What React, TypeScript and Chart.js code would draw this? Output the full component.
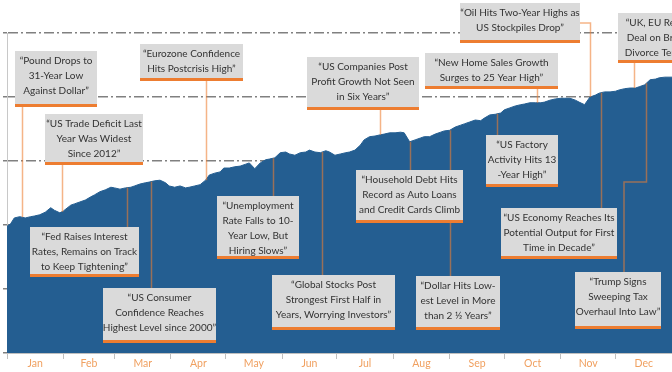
import React, { useEffect, useRef } from 'react';
import { Chart, registerables } from 'chart.js';

Chart.register(...registerables);

// Month axis (day-of-year based)
const MONTHS = ['Jan', 'Feb', 'Mar', 'Apr', 'May', 'Jun', 'Jul', 'Aug', 'Sep', 'Oct', 'Nov', 'Dec'];
const MONTH_STARTS = [0, 31, 59, 90, 120, 151, 181, 212, 243, 273, 304, 334, 365];

// Index level (arbitrary units, gridline = 1) by day of year
const DAYS = [
  0, 2, 4, 7, 10, 13, 15, 18, 21, 24, 26, 29, 31, 35, 37, 40, 43, 46, 48, 51,
  54, 57, 59, 62, 65, 68, 70, 73, 76, 78, 81, 84, 87, 89, 92, 95, 98, 100, 103, 106,
  109, 111, 114, 117, 119, 122, 125, 128, 131, 133, 136, 139, 142, 144, 147, 150, 153, 155, 158, 161,
  164, 166, 169, 172, 175, 177, 180, 183, 186, 188, 191, 194, 196, 199, 202, 205, 207, 210, 213, 216,
  218, 221, 224, 227, 229, 232, 235, 238, 240, 243, 246, 249, 251, 254, 257, 260, 262, 265, 268, 271,
  273, 276, 279, 282, 284, 287, 290, 293, 295, 298, 301, 304, 306, 309, 312, 314, 317, 320, 323, 325,
  328, 331, 334, 336, 339, 342, 345, 347, 350, 353, 356, 358, 361, 365,
];
const VALUES = [
  1.98, 2.02, 2.11, 2.13, 2.11, 2.13, 2.14, 2.16, 2.20, 2.27, 2.23, 2.19, 2.22, 2.31, 2.33, 2.36, 2.39, 2.44, 2.47, 2.52,
  2.55, 2.59, 2.58, 2.56, 2.58, 2.59, 2.61, 2.64, 2.66, 2.67, 2.69, 2.70, 2.66, 2.61, 2.59, 2.61, 2.58, 2.59, 2.61, 2.63,
  2.70, 2.78, 2.81, 2.83, 2.89, 2.89, 2.91, 2.92, 2.95, 2.97, 2.88, 2.97, 3.02, 3.03, 3.05, 3.13, 3.14, 3.11, 3.09, 3.13,
  3.14, 3.17, 3.14, 3.13, 3.16, 3.14, 3.09, 3.11, 3.13, 3.14, 3.17, 3.25, 3.33, 3.38, 3.39, 3.41, 3.42, 3.44, 3.44, 3.45,
  3.44, 3.30, 3.33, 3.36, 3.38, 3.38, 3.42, 3.45, 3.47, 3.48, 3.53, 3.56, 3.58, 3.61, 3.64, 3.63, 3.67, 3.72, 3.73, 3.75,
  3.80, 3.83, 3.86, 3.88, 3.89, 3.91, 3.91, 3.91, 3.92, 3.95, 3.97, 3.98, 3.98, 3.98, 3.95, 3.92, 3.88, 4.00, 4.03, 4.06,
  4.08, 4.08, 4.09, 4.11, 4.13, 4.14, 4.14, 4.16, 4.19, 4.27, 4.28, 4.30, 4.31, 4.31,
];

// Headline events: day of year and text
const EVENT_DAYS = [8, 30, 109, 205, 291, 320, 344, 66, 79, 146, 173, 221, 243, 269, 326, 351];
const EVENT_TEXTS = [
  ['\u201cPound Drops to', '31-Year Low', 'Against Dollar\u201d'],
  ['\u201cUS Trade Deficit Last', 'Year Was Widest', 'Since 2012\u201d'],
  ['\u201cEurozone Confidence', 'Hits Postcrisis High\u201d'],
  ['\u201cUS Companies Post', 'Profit Growth Not Seen', 'in Six Years\u201d'],
  ['\u201cNew Home Sales Growth', 'Surges to 25 Year High\u201d'],
  ['\u201cOil Hits Two-Year Highs as', 'US Stockpiles Drop\u201d'],
  ['\u201cUK, EU Reach', 'Deal on Brexit', 'Divorce Terms\u201d'],
  ['\u201cFed Raises Interest', 'Rates, Remains on Track', 'to Keep Tightening\u201d'],
  ['\u201cUS Consumer', 'Confidence Reaches', 'Highest Level since 2000\u201d'],
  ['\u201cUnemployment', 'Rate Falls to 10-', 'Year Low, But', 'Hiring Slows\u201d'],
  ['\u201cGlobal Stocks Post', 'Strongest First Half in', 'Years, Worrying Investors\u201d'],
  ['\u201cHousehold Debt Hits', 'Record as Auto Loans', 'and Credit Cards Climb'],
  ['\u201cDollar Hits Low-', 'est Level in More', 'than 2 \u00bd Years\u201d'],
  ['\u201cUS Factory', 'Activity Hits 13', '-Year High\u201d'],
  ['\u201cUS Economy Reaches Its', 'Potential Output for First', 'Time in Decade\u201d'],
  ['\u201cTrump Signs', 'Sweeping Tax', 'Overhaul Into Law\u201d'],
];

// Box layout (pixels) and connector routing
type Box = { x: number; y: number; w: number; h: number; route: string; mid?: number; bx?: number };
const BOXES: Box[] = [
  { x: 15, y: 51, w: 82, h: 56, route: 'down' },
  { x: 45, y: 114, w: 98, h: 51, route: 'down' },
  { x: 140, y: 44, w: 103, h: 37, route: 'down' },
  { x: 307, y: 57, w: 112, h: 53, route: 'down' },
  { x: 425, y: 53, w: 133, h: 36, route: 'down' },
  { x: 460, y: 3, w: 120, h: 40, route: 'side' },
  { x: 618, y: 13, w: 80, h: 50, route: 'down' },
  { x: 30, y: 227, w: 109, h: 50, route: 'up' },
  { x: 103, y: 288, w: 113, h: 55, route: 'up' },
  { x: 217, y: 196, w: 82, h: 63, route: 'up' },
  { x: 272, y: 275, w: 123, h: 55, route: 'up' },
  { x: 356, y: 170, w: 107, h: 53, route: 'up' },
  { x: 416, y: 276, w: 84, h: 54, route: 'up' },
  { x: 486, y: 135, w: 72, h: 52, route: 'up' },
  { x: 501, y: 208, w: 116, h: 51, route: 'up' },
  { x: 575, y: 272, w: 86, h: 57, route: 'elbow', mid: 182, bx: 624 },
];

const MIDS = MONTHS.map((_, i) => (MONTH_STARTS[i] + MONTH_STARTS[i + 1]) / 2);
const TICK_VALUES = [...MONTH_STARTS, ...MIDS].sort((a, b) => a - b);

function interp(day: number): number {
  for (let i = 0; i < DAYS.length - 1; i++) {
    if (day >= DAYS[i] && day <= DAYS[i + 1]) {
      const t = (day - DAYS[i]) / (DAYS[i + 1] - DAYS[i] || 1);
      return VALUES[i] + t * (VALUES[i + 1] - VALUES[i]);
    }
  }
  return VALUES[VALUES.length - 1];
}

const annotationPlugin = {
  id: 'headlines',
  afterDatasetsDraw(chart: any) {
    const ctx = chart.ctx as CanvasRenderingContext2D;
    const xs = chart.scales.x;
    const ys = chart.scales.y;
    ctx.save();
    ctx.strokeStyle = 'rgba(237,125,49,0.58)';
    ctx.lineWidth = 1.5;
    EVENT_DAYS.forEach((d, i) => {
      const b = BOXES[i];
      const ax = Math.round(xs.getPixelForValue(d)) + 0.5;
      const ay = ys.getPixelForValue(interp(d));
      ctx.beginPath();
      if (b.route === 'down') {
        ctx.moveTo(ax, b.y + b.h);
        ctx.lineTo(ax, ay);
      } else if (b.route === 'up') {
        ctx.moveTo(ax, ay);
        ctx.lineTo(ax, b.y);
      } else if (b.route === 'side') {
        const my = b.y + b.h / 2;
        ctx.moveTo(b.x + b.w, my);
        ctx.lineTo(ax, my);
        ctx.lineTo(ax, ay);
      } else if (b.route === 'elbow') {
        ctx.moveTo(ax, ay);
        ctx.lineTo(ax, b.mid!);
        ctx.lineTo(b.bx!, b.mid!);
        ctx.lineTo(b.bx!, b.y);
      }
      ctx.stroke();
    });
    EVENT_TEXTS.forEach((lines, i) => {
      const b = BOXES[i];
      ctx.fillStyle = '#dadada';
      ctx.fillRect(b.x, b.y, b.w, b.h);
      ctx.fillStyle = '#ed7d31';
      ctx.fillRect(b.x, b.y + b.h - 3, b.w, 3);
      ctx.fillStyle = '#333333';
      ctx.font = '10px Lato';
      ctx.textAlign = 'center';
      ctx.textBaseline = 'middle';
      lines.forEach((t, k) => {
        ctx.fillText(t, b.x + b.w / 2, b.y + 10 + k * 15);
      });
    });
    ctx.restore();
  },
};

export default function App() {
  const ref = useRef<HTMLCanvasElement>(null);
  useEffect(() => {
    if (!ref.current) return;
    const chart = new Chart(ref.current, {
      type: 'line',
      data: {
        datasets: [
          {
            data: DAYS.map((d, i) => ({ x: d, y: VALUES[i] })),
            fill: 'origin',
            backgroundColor: '#245e91',
            borderColor: '#245e91',
            borderWidth: 1,
            pointRadius: 0,
            tension: 0,
          },
        ],
      },
      options: {
        animation: false,
        responsive: true,
        maintainAspectRatio: false,
        layout: { padding: { top: 33, left: 0, right: 0, bottom: 0 } },
        plugins: { legend: { display: false }, tooltip: { enabled: false } },
        scales: {
          x: {
            type: 'linear',
            min: 0,
            max: 365,
            afterBuildTicks: (s: any) => {
              s.ticks = TICK_VALUES.map((v) => ({ value: v }));
            },
            afterFit: (s: any) => {
              s.height = 19;
            },
            ticks: {
              autoSkip: false,
              maxRotation: 0,
              padding: -2,
              color: '#f0a060',
              font: { family: 'Lato', size: 10.5 },
              callback: (v: any) => {
                const i = MIDS.indexOf(Number(v));
                return i >= 0 ? MONTHS[i] : '';
              },
            },
            grid: {
              drawOnChartArea: false,
              tickLength: 6,
              tickWidth: 1,
              tickColor: (c: any) =>
                MONTH_STARTS.includes(c.tick?.value) ? '#bfbfbf' : 'rgba(0,0,0,0)',
            },
            border: { color: '#bfbfbf', width: 1 },
          },
          y: {
            min: 0,
            max: 5,
            ticks: { display: false, stepSize: 1 },
            afterFit: (s: any) => {
              s.width = 7;
            },
            grid: {
              color: (c: any) => (c.tick?.value === 0 ? 'rgba(0,0,0,0)' : '#808080'),
              lineWidth: 1.5,
              tickLength: 4,
              tickColor: '#808080',
            },
            border: { color: '#c8c8c8', width: 1, dash: [10, 3, 2, 3] },
          },
        },
      },
      plugins: [annotationPlugin],
    });
    return () => chart.destroy();
  }, []);
  return (
    <div style={{ position: 'fixed', left: 0, top: 0, width: 672, height: 372, background: '#fff' }}>
      <canvas ref={ref} />
    </div>
  );
}
